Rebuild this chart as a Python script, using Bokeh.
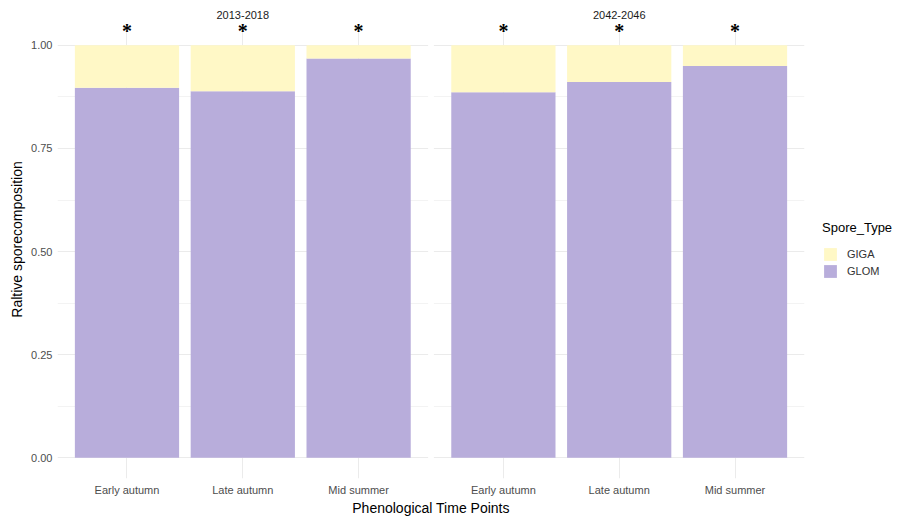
from bokeh.plotting import figure
from bokeh.layouts import row
from bokeh.models import (FixedTicker, Legend, LegendItem, Label, LabelSet,
                          BoxAnnotation, ColumnDataSource, Range1d)
from bokeh.embed import file_html
from bokeh.resources import INLINE

# ---- data -------------------------------------------------------------
periods = ["2013-2018", "2042-2046"]
time_points = ["Early autumn", "Late autumn", "Mid summer"]
glom_2013_2018 = [0.897, 0.889, 0.968]
glom_2042_2046 = [0.886, 0.911, 0.950]
significance = ["*", "*", "*", "*", "*", "*"]
spore_types = ["GIGA", "GLOM"]
y_ticks = [0.0, 0.25, 0.5, 0.75, 1.0]
y_tick_labels = ["0.00", "0.25", "0.50", "0.75", "1.00"]
y_minor_ticks = [0.125, 0.375, 0.625, 0.875]

GLOM_COLOR = "#B8ADDB"
GIGA_COLOR = "#FFF8C6"
FONT = "Liberation Sans"

PANEL_STEP = 3.25  # category units between facet panels
PAD = 0.6

xs, glom, giga, labels = [], [], [], []
for pi, vals in enumerate([glom_2013_2018, glom_2042_2046]):
    for ci, v in enumerate(vals):
        xs.append(ci + pi * PANEL_STEP)
        glom.append(v)
        giga.append(1 - v)
        labels.append(time_points[ci])

STAR_Y = 1.019
STRIP_Y = 1.0725
src = ColumnDataSource(dict(x=xs, GLOM=glom, GIGA=giga,
                            star=significance, star_y=[STAR_Y] * len(xs)))

n_tp = len(time_points)
x_end = (len(periods) - 1) * PANEL_STEP + n_tp - 1 + PAD
p = figure(width=808, height=518,
           x_range=Range1d(-PAD, x_end), y_range=Range1d(-0.05, 1.1087),
           output_backend="svg", toolbar_location=None,
           min_border_left=57, min_border_right=4,
           min_border_top=0, min_border_bottom=38)
p.outline_line_color = None
p.background_fill_color = "white"
p.border_fill_color = "white"

r = p.vbar_stack(["GLOM", "GIGA"], x="x", width=0.9, source=src,
                 color=[GLOM_COLOR, GIGA_COLOR], line_color=None)

# gap between facet panels
for pi in range(len(periods) - 1):
    left = pi * PANEL_STEP + n_tp - 1 + PAD
    gap = BoxAnnotation(left=left, right=(pi + 1) * PANEL_STEP - PAD,
                        fill_color="white", fill_alpha=1.0, line_color=None)
    p.add_layout(gap)

# significance stars
stars = LabelSet(x="x", y="star_y", text="star", source=src,
                 text_font=FONT, text_font_style="bold",
                 text_font_size="20px", text_align="center",
                 text_baseline="alphabetic", text_color="black")
p.add_layout(stars)

# facet strip titles
for pi, per in enumerate(periods):
    p.add_layout(Label(x=pi * PANEL_STEP + (n_tp - 1) / 2, y=STRIP_Y, text=per,
                       text_font=FONT, text_font_size="11px",
                       text_color="#1a1a1a", text_align="center",
                       text_baseline="middle"))

# axes
p.xaxis.ticker = FixedTicker(ticks=xs)
p.xaxis.major_label_overrides = {float(x): l for x, l in zip(xs, labels)}
p.yaxis.ticker = FixedTicker(ticks=y_ticks, minor_ticks=y_minor_ticks)
p.yaxis.major_label_overrides = {t: l for t, l in zip(y_ticks, y_tick_labels)}

for ax in (p.xaxis[0], p.yaxis[0]):
    ax.axis_line_color = None
    ax.major_tick_line_color = None
    ax.minor_tick_line_color = None
    ax.major_tick_out = 0
    ax.major_tick_in = 0
    ax.minor_tick_out = 0
    ax.minor_tick_in = 0
    ax.major_label_text_font = FONT
    ax.major_label_text_font_size = "11px"
    ax.major_label_text_color = "#4d4d4d"
    ax.axis_label_text_font = FONT
    ax.axis_label_text_font_size = "14px"
    ax.axis_label_text_font_style = "normal"
    ax.axis_label_text_color = "black"

p.xaxis.axis_label = "Phenological Time Points"
p.xaxis.major_label_standoff = 5
p.xaxis.axis_label_standoff = 1
p.yaxis.axis_label = "Raltive sporecomposition"
p.yaxis.major_label_standoff = 5
p.yaxis.axis_label_standoff = 3

p.xgrid.grid_line_color = "#ebebeb"
p.xgrid.cross_bounds = (-0.05, 1.05)
p.ygrid.grid_line_color = "#ebebeb"
p.ygrid.minor_grid_line_color = "#f3f3f3"

# ---- legend (separate panel, like ggplot's guide box) ------------------
lf = figure(width=94, height=518, x_range=Range1d(0, 1), y_range=Range1d(0, 1),
            output_backend="svg", toolbar_location=None,
            x_axis_location=None, y_axis_location=None, min_border=0)
lf.outline_line_color = None
lf.grid.visible = False
lg_giga = lf.vbar(x="x", top="GIGA", source=src, width=0.9,
                  color=GIGA_COLOR, line_color=None, visible=False)
lg_glom = lf.vbar(x="x", top="GLOM", source=src, width=0.9,
                  color=GLOM_COLOR, line_color=None, visible=False)

legend = Legend(items=[LegendItem(label=spore_types[0], renderers=[lg_giga]),
                       LegendItem(label=spore_types[1], renderers=[lg_glom])],
                title="Spore_Type", location=(14, 199),
                title_text_font=FONT, title_text_font_size="13px",
                title_text_color="black", title_text_font_style="normal",
                title_standoff=11,
                label_text_font=FONT, label_text_font_size="11px",
                label_text_color="#333333",
                glyph_width=16, glyph_height=16, label_height=16,
                label_standoff=9, spacing=1, padding=8, margin=0,
                inactive_fill_alpha=0,
                border_line_color=None, background_fill_alpha=0)
lf.add_layout(legend)

layout = row(p, lf)
open("out.html", "w").write(file_html(layout, INLINE))
